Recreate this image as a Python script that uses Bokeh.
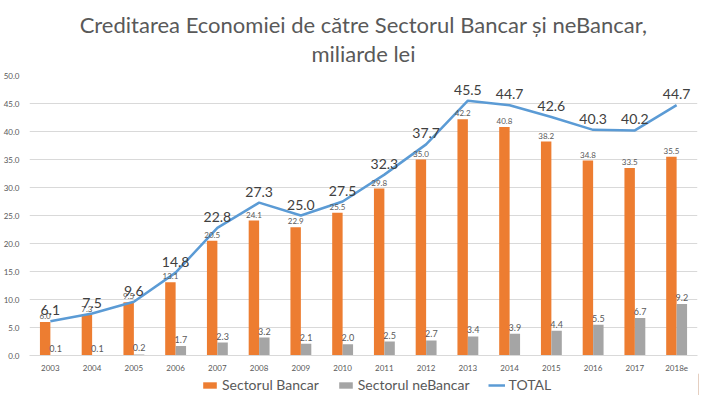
from bokeh.plotting import figure
from bokeh.layouts import column
from bokeh.models import ColumnDataSource, FactorRange, Range1d, FixedTicker, NumeralTickFormatter, Legend, LegendItem, Title
from bokeh.transform import dodge
from bokeh.core.properties import value
from bokeh.embed import file_html
from bokeh.resources import INLINE

years = ["2003", "2004", "2005", "2006", "2007", "2008", "2009", "2010",
         "2011", "2012", "2013", "2014", "2015", "2016", "2017", "2018e"]
bank = [6.0, 7.3, 9.5, 13.1, 20.5, 24.1, 22.9, 25.5, 29.8, 35.0, 42.2, 40.8, 38.2, 34.8, 33.5, 35.5]
nonbank = [0.1, 0.1, 0.2, 1.7, 2.3, 3.2, 2.1, 2.0, 2.5, 2.7, 3.4, 3.9, 4.4, 5.5, 6.7, 9.2]
total = [6.1, 7.5, 9.6, 14.8, 22.8, 27.3, 25.0, 27.5, 32.3, 37.7, 45.5, 44.7, 42.6, 40.3, 40.2, 44.7]
y_ticks = [0, 5, 10, 15, 20, 25, 30, 35, 40, 45, 50]
series_names = ["Sectorul Bancar", "Sectorul neBancar", "TOTAL"]
title_text = "Creditarea Economiei de către Sectorul Bancar și neBancar,\nmiliarde lei"

src = ColumnDataSource(dict(
    years=years, bank=bank, nonbank=nonbank, total=total,
    bank_lbl=[f"{v:.1f}" for v in bank],
    nonbank_lbl=[f"{v:.1f}" for v in nonbank],
    total_lbl=[f"{v:.1f}" for v in total],
))

FONT = "Lato"
ORANGE = "#ED7D31"
GRAY = "#A5A5A5"
BLUE = "#5B9BD5"
TXT = "#595959"

p = figure(x_range=FactorRange(*years), y_range=Range1d(0, 50),
           frame_width=668, frame_height=280, output_backend="svg", toolbar_location=None,
           min_border_left=4, min_border_right=6, min_border_top=74, min_border_bottom=2)
p.outline_line_color = None
p.background_fill_color = "white"
p.border_fill_color = "white"

p.add_layout(Title(text=title_text, align="center", text_align="center", text_font=FONT,
                   text_font_size="22px", text_font_style="normal", text_color=TXT,
                   text_line_height=1.1, standoff=16), "above")

r_bank = p.vbar(x=dodge("years", -0.125, range=p.x_range), top="bank", width=0.25,
                source=src, color=ORANGE, line_color=None)
r_non = p.vbar(x=dodge("years", 0.125, range=p.x_range), top="nonbank", width=0.25,
               source=src, color=GRAY, line_color=None)
r_tot = p.line(x="years", y="total", source=src, line_color=BLUE, line_width=2.5)

p.text(x=dodge("years", -0.125, range=p.x_range), y="bank", text="bank_lbl", source=src,
       text_font=value(FONT), text_font_size="8px", text_color=TXT,
       text_align="center", text_baseline="bottom", y_offset=-3)
p.text(x=dodge("years", 0.125, range=p.x_range), y="nonbank", text="nonbank_lbl", source=src,
       text_font=value(FONT), text_font_size="9px", text_color=TXT,
       text_align="center", text_baseline="bottom", y_offset=-3)
p.text(x="years", y="total", text="total_lbl", source=src,
       text_font=value(FONT), text_font_size="14px", text_color="#404040",
       text_align="center", text_baseline="bottom", y_offset=-6)

p.xgrid.grid_line_color = None
p.ygrid.grid_line_color = "#D9D9D9"
p.ygrid.grid_line_width = 1
p.yaxis.ticker = FixedTicker(ticks=y_ticks)
p.yaxis.formatter = NumeralTickFormatter(format="0.0")
for ax in (p.xaxis, p.yaxis):
    ax.axis_line_color = None
    ax.major_tick_line_color = None
    ax.minor_tick_line_color = None
    ax.major_label_text_font = FONT
    ax.major_label_text_color = TXT
    ax.major_label_text_font_size = "8px"
p.xaxis.axis_line_color = "#D9D9D9"
p.xaxis.major_label_standoff = 3
p.yaxis.major_label_standoff = 4

# legend strip as its own small figure (swatch glyphs sit outside its ranges)
lf = figure(width=704, height=22, x_range=(0, 1), y_range=(0, 1), output_backend="svg",
            toolbar_location=None, min_border=0)
lf.axis.visible = False
lf.grid.grid_line_color = None
lf.outline_line_color = None
lb = lf.vbar(x=[5], top=[5], width=0.1, color=ORANGE, line_color=None)
ln = lf.vbar(x=[5], top=[5], width=0.1, color=GRAY, line_color=None)
lt = lf.line(x=[5, 6], y=[5, 6], line_color=BLUE, line_width=2.5)
legend = Legend(items=[LegendItem(label=series_names[0], renderers=[lb]),
                       LegendItem(label=series_names[1], renderers=[ln]),
                       LegendItem(label=series_names[2], renderers=[lt])],
                orientation="horizontal", location=(172, 2),
                label_text_font=FONT, label_text_font_size="14px", label_text_color=TXT,
                glyph_width=17, glyph_height=8, spacing=18, padding=0, margin=0,
                label_height=16, label_standoff=4, border_line_color=None,
                background_fill_alpha=0)
lf.add_layout(legend)

open("out.html", "w").write(file_html(column(p, lf, spacing=0), INLINE))
